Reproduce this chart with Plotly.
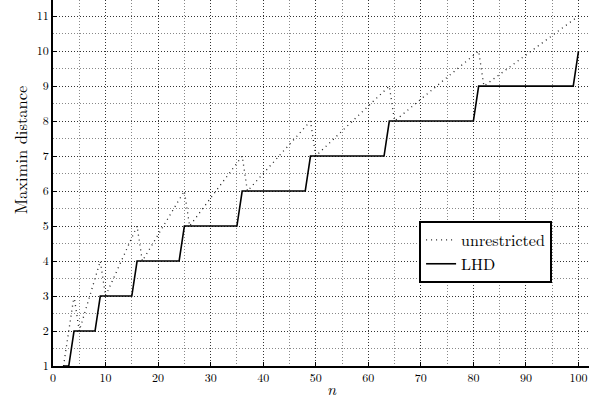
import plotly.graph_objects as go

n_values = list(range(2, 101))

unrestricted = [
    1, 2, 3,
    2, 2.5, 3, 3.5, 4,
    3, 3.333, 3.667, 4, 4.333, 4.667, 5,
    4, 4.25, 4.5, 4.75, 5, 5.25, 5.5, 5.75, 6,
    5, 5.2, 5.4, 5.6, 5.8, 6, 6.2, 6.4, 6.6, 6.8, 7,
    6, 6.167, 6.333, 6.5, 6.667, 6.833, 7, 7.167, 7.333, 7.5, 7.667, 7.833, 8,
    7, 7.143, 7.286, 7.429, 7.571, 7.714, 7.857, 8, 8.143, 8.286, 8.429, 8.571, 8.714, 8.857, 9,
    8, 8.125, 8.25, 8.375, 8.5, 8.625, 8.75, 8.875, 9, 9.125, 9.25, 9.375, 9.5, 9.625, 9.75, 9.875, 10,
    9, 9.111, 9.222, 9.333, 9.444, 9.556, 9.667, 9.778, 9.889, 10, 10.111, 10.222, 10.333, 10.444,
    10.556, 10.667, 10.778, 10.889, 11,
]

lhd = (
    [1, 1]
    + [2] * 5
    + [3] * 7
    + [4] * 9
    + [5] * 11
    + [6] * 13
    + [7] * 15
    + [8] * 17
    + [9] * 19
    + [10]
)

x_ticks = [0, 10, 20, 30, 40, 50, 60, 70, 80, 90, 100]
y_ticks = [1, 2, 3, 4, 5, 6, 7, 8, 9, 10, 11]

serif = "Latin Modern Roman"

fig = go.Figure()
fig.add_trace(go.Scatter(
    x=n_values, y=unrestricted, mode="lines", name="unrestricted",
    line=dict(color="#222", width=1.3, dash="1px,4px"),
))
fig.add_trace(go.Scatter(
    x=n_values, y=lhd, mode="lines", name="LHD",
    line=dict(color="black", width=1.6),
))

fig.update_layout(
    width=589, height=405,
    margin=dict(l=53, r=0, t=0, b=39, autoexpand=False),
    plot_bgcolor="white", paper_bgcolor="white",
    font=dict(family=serif, color="black", size=12),
    showlegend=True,
    legend=dict(
        x=0.683, y=0.396, xanchor="left", yanchor="top",
        bordercolor="black", borderwidth=2, bgcolor="white",
        font=dict(family=serif, size=16),
        tracegroupgap=0,
    ),
    xaxis=dict(
        range=[0, 102], tickmode="array", tickvals=x_ticks,
        ticktext=[str(v) for v in x_ticks],
        showline=True, linecolor="black", linewidth=1.5,
        ticks="inside", ticklen=4, tickcolor="black",
        showgrid=True, gridcolor="#333", griddash="1px,2px", gridwidth=1,
        minor=dict(dtick=5, showgrid=True, gridcolor="#888", griddash="1px,2px", gridwidth=1),
        zeroline=False, automargin=False,
        tickfont=dict(family=serif, size=12),
    ),
    yaxis=dict(
        range=[1, 11.46], tickmode="array", tickvals=y_ticks,
        ticktext=[str(v) for v in y_ticks],
        showline=True, linecolor="black", linewidth=1.5,
        ticks="inside", ticklen=4, tickcolor="black",
        showgrid=True, gridcolor="#333", griddash="1px,2px", gridwidth=1,
        minor=dict(dtick=0.5, showgrid=True, gridcolor="#888", griddash="1px,2px", gridwidth=1),
        zeroline=False, automargin=False,
        tickfont=dict(family=serif, size=12),
    ),
    annotations=[
        dict(text="Maximin distance", xref="paper", yref="paper", x=-0.0616, y=0.59,
             xanchor="center", yanchor="middle", textangle=-90, showarrow=False,
             font=dict(family=serif, size=16.5)),
        dict(text="<i>n</i>", xref="paper", yref="paper", x=0.52, y=0, yshift=-22,
             xanchor="center", yanchor="middle", showarrow=False,
             font=dict(family=serif, size=16)),
    ],
)

fig.write_html(
    "out.html",
    config={"displayModeBar": False},
    post_script="document.body.style.margin='0';document.body.style.overflow='hidden';",
)
